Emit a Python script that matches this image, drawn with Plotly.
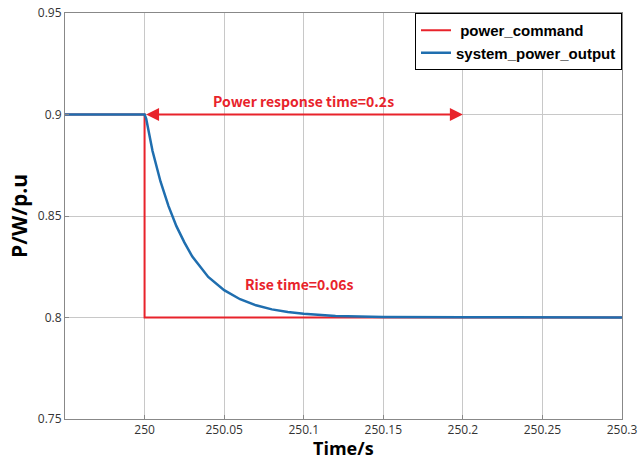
import plotly.graph_objects as go

# Data
cmd_t = [249.95, 250.0, 250.0, 250.3]
cmd_p = [0.9, 0.9, 0.8, 0.8]

out_t = [249.95, 250.0, 250.001, 250.005, 250.01, 250.015, 250.02, 250.025, 250.03,
         250.04, 250.05, 250.06, 250.07, 250.08, 250.09, 250.1, 250.12,
         250.15, 250.2, 250.3]
out_p = [0.9, 0.9, 0.898, 0.882, 0.867, 0.855, 0.845, 0.837, 0.830,
         0.820, 0.8135, 0.809, 0.806, 0.804, 0.8027, 0.8018, 0.8008,
         0.8003, 0.8001, 0.8]

x_ticks = [250, 250.05, 250.1, 250.15, 250.2, 250.25, 250.3]
x_tick_labels = ["250", "250.05", "250.1", "250.15", "250.2", "250.25", "250.3"]
y_ticks = [0.75, 0.8, 0.85, 0.9, 0.95]
y_tick_labels = ["0.75", "0.8", "0.85", "0.9", "0.95"]

resp_start, resp_end, resp_level = 250.0, 250.2, 0.9

RED = "#e8232b"
BLUE = "#1f6eaf"
LABEL_FONT = "Noto Sans CJK KR, Open Sans, sans-serif"
TITLE_FONT = "Open Sans, Noto Sans, sans-serif"

fig = go.Figure()
fig.add_trace(go.Scatter(x=cmd_t, y=cmd_p, mode="lines", name="<b> power_command</b>",
                         line=dict(color=RED, width=2)))
fig.add_trace(go.Scatter(x=out_t, y=out_p, mode="lines", name="<b>system_power_output</b>",
                         line=dict(color=BLUE, width=2.5)))

fig.add_annotation(x=resp_end, y=resp_level, ax=resp_start, ay=resp_level,
                   xref="x", yref="y", axref="x", ayref="y",
                   showarrow=True, arrowhead=2, arrowside="end+start",
                   arrowsize=1.3, arrowwidth=2, arrowcolor=RED, text="")
fig.add_annotation(x=250.1, y=0.9065, xref="x", yref="y", showarrow=False,
                   text="<b>Power response time=0.2s</b>",
                   font=dict(family=LABEL_FONT, size=14, color=RED))
fig.add_annotation(x=250.097, y=0.8165, xref="x", yref="y", showarrow=False,
                   text="<b>Rise time=0.06s</b>",
                   font=dict(family=LABEL_FONT, size=14, color=RED))

# x-axis title as annotation, below tick labels
fig.add_annotation(x=0.5, y=0, xref="paper", yref="paper", yanchor="middle",
                   yshift=-29, showarrow=False, borderpad=0, text="<b>Time/s</b>",
                   font=dict(family=TITLE_FONT, size=18, color="black"))

axis_common = dict(showgrid=True, gridcolor="#c8c8c8", gridwidth=1,
                   showline=True, linecolor="#888888", linewidth=1, mirror=True,
                   ticks="inside", ticklen=4, tickcolor="#888888",
                   tickfont=dict(family="Open Sans, sans-serif", size=12, color="#333333"),
                   zeroline=False, automargin=False)

fig.update_xaxes(range=[249.95, 250.3], tickvals=x_ticks, ticktext=x_tick_labels,
                 **axis_common)
fig.update_yaxes(range=[0.75, 0.95], tickvals=y_ticks, ticktext=y_tick_labels,
                 title=dict(text="<b>P/W/p.u</b>", standoff=4,
                            font=dict(family=TITLE_FONT, size=21, color="black")),
                 **axis_common)

fig.update_layout(
    width=642, height=461,
    margin=dict(l=65, r=20, t=13, b=42),
    plot_bgcolor="white", paper_bgcolor="white",
    showlegend=True,
    legend=dict(x=1, y=1, xanchor="right", yanchor="top",
                bgcolor="white", bordercolor="black", borderwidth=1,
                font=dict(family="Liberation Sans, Arial, sans-serif", size=15, color="black"),
                tracegroupgap=0, itemwidth=30),
)

fig.write_html("out.html")
